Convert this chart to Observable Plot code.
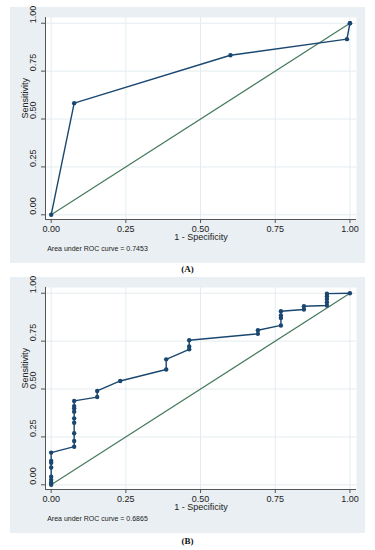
<!DOCTYPE html>
<html>
<head>
<meta charset="utf-8">
<script src="https://cdn.jsdelivr.net/npm/d3@7"></script>
<script src="https://cdn.jsdelivr.net/npm/@observablehq/plot@0.6"></script>
<style>
  html, body { margin: 0; padding: 0; background: #ffffff; }
  body { width: 375px; height: 550px; position: relative; overflow: hidden; }
  .panel { position: absolute; left: 10px; }
  .tag { position: absolute; left: 0; width: 375px; text-align: center;
         font-family: "Liberation Serif", "Times New Roman", serif; font-weight: bold;
         font-size: 9px; color: #111; line-height: 10px; }
</style>
</head>
<body>
<div id="pA" class="panel" style="top:7px"></div>
<div class="tag" style="top:264px">(A)</div>
<div id="pB" class="panel" style="top:277px"></div>
<div class="tag" style="top:536px">(B)</div>
<script>
// ---- data ----
const xTicks = [0, 0.25, 0.5, 0.75, 1];
const yTicks = [0, 0.25, 0.5, 0.75, 1];
const refX = [0, 1];
const refY = [0, 1];

// Panel A: 1 - specificity, sensitivity
const aSpec = [0, 0.077, 0.6, 0.99, 1, 1];
const aSens = [0, 0.583, 0.833, 0.917, 1, 1];
const aAuc = "Area under ROC curve = 0.7453";

// Panel B
const bSpec = [0, 0, 0, 0, 0, 0, 0, 0,
  0.077, 0.077, 0.077, 0.077, 0.077, 0.077, 0.077, 0.077, 0.077,
  0.154, 0.154, 0.231, 0.385, 0.385, 0.462, 0.462, 0.462,
  0.692, 0.692, 0.769, 0.769, 0.769, 0.769, 0.846, 0.846,
  0.923, 0.923, 0.923, 0.923, 0.923, 1];
const bSens = [0, 0.012, 0.026, 0.042, 0.09, 0.115, 0.125, 0.168,
  0.199, 0.229, 0.269, 0.324, 0.347, 0.382, 0.399, 0.411, 0.438,
  0.458, 0.49, 0.542, 0.602, 0.655, 0.707, 0.722, 0.755,
  0.788, 0.807, 0.832, 0.871, 0.884, 0.906, 0.915, 0.932,
  0.936, 0.953, 0.97, 0.984, 0.998, 1];
const bAuc = "Area under ROC curve = 0.6865";

// ---- drawing ----
const navy = "#1a476f";
const refColor = "#467a5c";
const gridColor = "#e4ecef";
const bgColor = "#e9eff2";
const axisColor = "#555";
const xDom = [-0.019, 1.022];
const yDom = [-0.0245, 1.03];

function panel(spec, sens, auc) {
  const roc = spec.map((x, i) => ({x, y: sens[i]}));
  const ref = refX.map((x, i) => ({x, y: refY[i]}));
  const fmt = d => d.toFixed(2);
  return Plot.plot({
    width: 355, height: 256,
    marginLeft: 35, marginRight: 9, marginTop: 10, marginBottom: 44,
    style: {background: bgColor, fontFamily: "'Liberation Sans', Arial, sans-serif", color: "#222", overflow: "visible"},
    x: {domain: xDom, axis: null},
    y: {domain: yDom, axis: null},
    marks: [
      Plot.frame({fill: "white", stroke: null}),
      Plot.gridX(xTicks, {stroke: gridColor, strokeOpacity: 1, strokeWidth: 1}),
      Plot.gridY(yTicks, {stroke: gridColor, strokeOpacity: 1, strokeWidth: 1}),
      Plot.line(ref, {x: "x", y: "y", stroke: refColor, strokeWidth: 1.2}),
      Plot.line(roc, {x: "x", y: "y", stroke: navy, strokeWidth: 1.4}),
      Plot.dot(roc, {x: "x", y: "y", r: 2.2, fill: navy, stroke: null}),
      Plot.ruleX([xDom[0]], {stroke: axisColor, strokeWidth: 1}),
      Plot.ruleY([yDom[0]], {stroke: axisColor, strokeWidth: 1}),
      Plot.axisX(xTicks, {tickSize: 4, tickFormat: () => "", label: null, stroke: axisColor}),
      Plot.axisY(yTicks, {tickSize: 4, tickFormat: () => "", label: null, stroke: axisColor}),
      Plot.text(xTicks, {x: d => d, frameAnchor: "bottom", dy: 12, text: fmt, fontSize: 9, fill: "#222"}),
      Plot.text(yTicks, {y: d => d, frameAnchor: "left", dx: -12, rotate: -90, text: fmt, fontSize: 9, fill: "#222"}),
      Plot.text(["1 - Specificity"], {frameAnchor: "bottom", dy: 20.5, text: d => d, fontSize: 9, fill: "#222"}),
      Plot.text(["Sensitivity"], {frameAnchor: "left", dx: -20, rotate: -90, text: d => d, fontSize: 9, fill: "#222"}),
      Plot.text([auc], {frameAnchor: "bottom-left", dx: 1.7, dy: 31, textAnchor: "start", text: d => d, fontSize: 7, fill: "#222"})
    ]
  });
}

document.getElementById("pA").appendChild(panel(aSpec, aSens, aAuc));
document.getElementById("pB").appendChild(panel(bSpec, bSens, bAuc));
</script>
</body>
</html>
